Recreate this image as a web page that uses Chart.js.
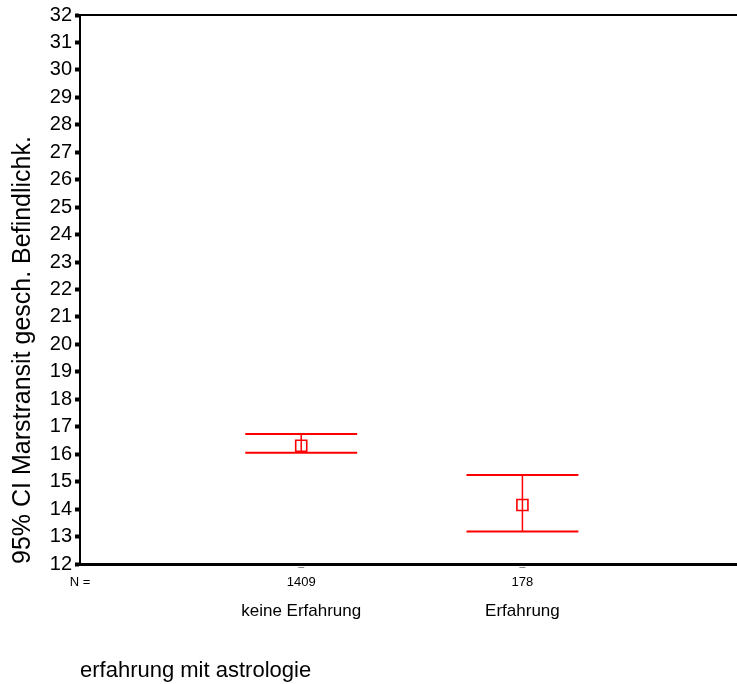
<!DOCTYPE html>
<html>
<head>
<meta charset="utf-8">
<script src="https://cdn.jsdelivr.net/npm/chart.js@4/dist/chart.umd.min.js"></script>
<style>
  body { margin: 0; background: #fff; }
  canvas { display: block; }
</style>
</head>
<body>
<canvas id="ci-chart" width="737" height="684"></canvas>
<script>
// groups of "erfahrung mit astrologie"
const groups = ['keine Erfahrung', 'Erfahrung'];
const counts = ['1409', '178'];
const nLabel = 'N =';
// 95% CI of "Marstransit gesch. Befindlichk."
const means = [16.31, 14.15];
const lower = [16.05, 13.18];
const upper = [16.74, 15.24];
const yMin = 12;
const yMax = 32;

const FONT = "'Liberation Sans', Arial, sans-serif";
const RED = '#ff0000';
const capHalf = 0.253;

/* draws the whiskers and caps through the scales */
const errorBars = {
  id: 'errorBars',
  beforeDatasetsDraw(chart)
  {
    const ctx = chart.ctx;
    const xs = chart.scales.x;
    const ys = chart.scales.y;
    ctx.save();
    ctx.strokeStyle = RED;
    for (let i = 0; i < groups.length; i++)
    {
      const x = xs.getPixelForValue(i + 1);
      const x0 = xs.getPixelForValue(i + 1 - capHalf);
      const x1 = xs.getPixelForValue(i + 1 + capHalf);
      const yl = ys.getPixelForValue(lower[i]);
      const yu = ys.getPixelForValue(upper[i]);
      ctx.lineWidth = 1.5;
      ctx.beginPath();
      ctx.moveTo(x, yl);
      ctx.lineTo(x, yu);
      ctx.stroke();
      ctx.lineWidth = 2;
      ctx.beginPath();
      ctx.moveTo(x0, yl);
      ctx.lineTo(x1, yl);
      ctx.moveTo(x0, yu);
      ctx.lineTo(x1, yu);
      ctx.stroke();
    }
    ctx.restore();
  },
  afterDraw(chart)
  {
    const ctx = chart.ctx;
    const area = chart.chartArea;
    const xs = chart.scales.x;
    ctx.save();
    // frame line on top
    ctx.strokeStyle = '#000';
    ctx.lineWidth = 2;
    ctx.beginPath();
    ctx.moveTo(area.left, area.top);
    ctx.lineTo(area.right, area.top);
    ctx.stroke();
    // little dashes below the axis
    ctx.strokeStyle = '#888';
    ctx.lineWidth = 1;
    for (let i = 0; i < groups.length; i++)
    {
      const x = xs.getPixelForValue(i + 1);
      ctx.beginPath();
      ctx.moveTo(x - 3, area.bottom + 3.5);
      ctx.lineTo(x + 3, area.bottom + 3.5);
      ctx.stroke();
    }
    ctx.restore();
  }
};

let ctx = document.getElementById('ci-chart').getContext('2d');
let chart = new Chart(ctx,
{
  type: 'scatter',
  data:
  {
    datasets: [
    {
      data: means.map((m, i) => ({ x: i + 1, y: m })),
      pointStyle: 'rect',
      radius: 7.8,
      borderColor: RED,
      borderWidth: 1.6,
      backgroundColor: 'rgba(0,0,0,0)',
    }, ],
  },
  options:
  {
    responsive: false,
    animation: false,
    layout: { autoPadding: false, padding: { top: 15, right: 0, bottom: 0, left: 0 } },
    plugins:
    {
      legend: { display: false },
      tooltip: { enabled: false },
    },
    scales:
    {
      n:
      {
        type: 'linear',
        position: 'bottom',
        weight: 0,
        min: 0,
        max: 2.97,
        afterBuildTicks: (s) => { s.ticks = [0, 1, 2].map(v => ({ value: v })); },
        afterFit: (s) => { s.height = 30; },
        grid: { display: false, drawTicks: false },
        border: { display: true, color: '#000', width: 3 },
        ticks:
        {
          padding: 11,
          maxRotation: 0,
          color: '#000',
          font: { family: FONT, size: 13 },
          callback: (v) => v == 0 ? nLabel : counts[v - 1],
        },
      },
      x:
      {
        type: 'linear',
        position: 'bottom',
        weight: 1,
        min: 0,
        max: 2.97,
        afterBuildTicks: (s) => { s.ticks = groups.map((g, i) => ({ value: i + 1 })); },
        afterFit: (s) => { s.height = 90; },
        grid: { display: false, drawTicks: false },
        border: { display: false },
        ticks:
        {
          padding: 7,
          maxRotation: 0,
          color: '#000',
          font: { family: FONT, size: 17 },
          callback: (v) => groups[v - 1],
        },
        title:
        {
          display: true,
          text: 'erfahrung mit astrologie',
          align: 'start',
          color: '#000',
          font: { family: FONT, size: 22 },
          padding: { top: 0, bottom: 0 },
        },
      },
      y:
      {
        min: yMin,
        max: yMax,
        afterFit: (s) => { s.width = 80; },
        grid:
        {
          drawOnChartArea: false,
          tickLength: 5,
          tickWidth: 4,
          tickColor: '#000',
        },
        border: { display: true, color: '#000', width: 2 },
        ticks:
        {
          stepSize: 1,
          padding: 3,
          color: '#000',
          font: { family: FONT, size: 20 },
        },
        title:
        {
          display: true,
          text: '95% CI Marstransit gesch. Befindlichk.',
          align: 'start',
          color: '#000',
          font: { family: FONT, size: 25 },
          padding: { top: 8, bottom: 0 },
        },
      },
    },
  },
  plugins: [errorBars],
});
</script>
</body>
</html>
